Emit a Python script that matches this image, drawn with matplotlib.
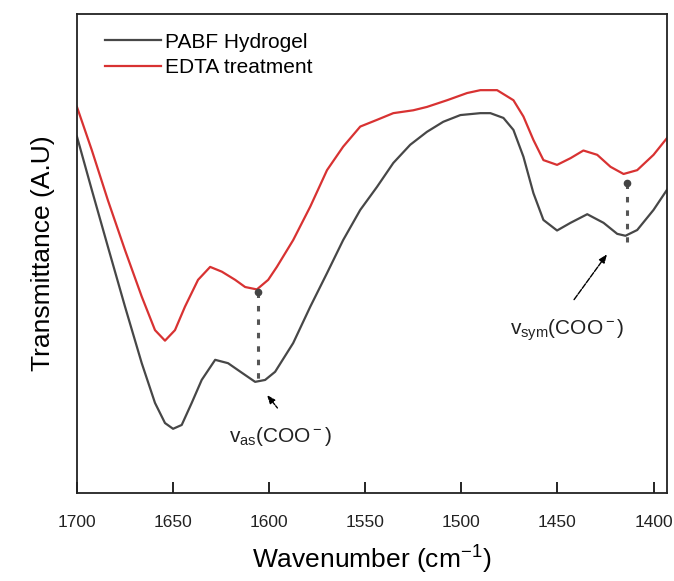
"""FTIR spectra of the PABF hydrogel before and after EDTA treatment."""

import matplotlib
matplotlib.use("Agg")
import matplotlib.pyplot as plt

plt.rcParams["font.family"] = ["Liberation Sans", "DejaVu Sans"]
plt.rcParams["mathtext.fontset"] = "custom"
plt.rcParams["mathtext.rm"] = "Liberation Sans"
plt.rcParams["mathtext.it"] = "Liberation Sans"

# wavenumber (cm-1) and transmittance (arbitrary units)
hydrogel_wn = [1700, 1692.3, 1683.9, 1675.0, 1666.3, 1659.4, 1654.2, 1650.0, 1645.5,
               1640.3, 1635.1, 1628.1, 1621.4, 1614.2, 1607.3, 1602.1, 1596.9,
               1587.5, 1578.6, 1569.9, 1561.5, 1552.6, 1543.9, 1535.4, 1526.6,
               1517.9, 1509.4, 1500.5, 1490.1, 1484.9, 1478.1, 1472.9, 1467.7,
               1462.5, 1457.3, 1450.2, 1443.2, 1434.5, 1426.0, 1418.9, 1414.6,
               1408.5, 1400.0, 1393]
hydrogel_t = [74.4, 63.3, 51.4, 38.9, 27.1, 18.8, 14.6, 13.4, 14.2,
              18.8, 23.6, 27.8, 27.1, 25.1, 23.2, 23.6, 25.3,
              31.3, 38.9, 45.9, 52.8, 59.1, 63.9, 68.9, 72.7,
              75.4, 77.5, 78.9, 79.3, 79.3, 78.3, 75.8, 70.2,
              62.6, 57.0, 54.8, 56.4, 58.2, 56.4, 54.1, 53.7,
              54.9, 59.1, 63.3]

edta_wn = [1700, 1692.3, 1683.9, 1675.0, 1666.3, 1659.4, 1654.2, 1649.0, 1643.8,
           1637.0, 1630.7, 1624.6, 1617.7, 1612.5, 1606.4, 1600.5, 1596.0,
           1587.5, 1578.6, 1569.9, 1561.5, 1552.6, 1543.9, 1535.4, 1525.0,
           1517.9, 1507.4, 1497.0, 1490.1, 1481.4, 1472.9, 1467.7, 1462.5,
           1457.3, 1450.2, 1443.2, 1436.5, 1429.3, 1422.4, 1415.6, 1408.5,
           1400.0, 1393]
edta_t = [80.6, 71.6, 61.1, 50.7, 41.0, 34.0, 31.8, 34.0, 38.9,
          44.5, 47.2, 46.2, 44.5, 43.0, 42.5, 44.5, 47.2,
          52.8, 59.8, 67.4, 72.3, 76.5, 77.9, 79.3, 79.9,
          80.6, 82.0, 83.5, 84.1, 84.1, 82.0, 78.6, 73.7,
          69.5, 68.5, 69.9, 71.5, 70.6, 68.1, 66.6, 67.4,
          70.6, 74.1]

# carboxylate bands marked with dotted lines
peak_wn = [1605.7, 1414]
peak_top = [42.0, 64.7]
peak_bottom = [23.2, 52.4]

fig = plt.figure(figsize=(6.74, 5.81), dpi=100)
ax = fig.add_axes([0.1142, 0.1515, 0.8754, 0.8244])

ax.plot(hydrogel_wn, hydrogel_t, color="#474747", lw=1.6,
        solid_joinstyle="round", label="PABF Hydrogel")
ax.plot(edta_wn, edta_t, color="#d83232", lw=1.6,
        solid_joinstyle="round", label="EDTA treatment")

for wn, top, bottom in zip(peak_wn, peak_top, peak_bottom):
    ax.plot([wn, wn], [top, bottom], color="#555555", lw=2.2,
            linestyle=(0, (1.8, 2.6)))
    ax.plot(wn, top, "o", color="#444444", ms=4.5)

ax.annotate("", xy=(1602, 20.9), xytext=(1594.8, 17.3),
            arrowprops=dict(arrowstyle="-|>,head_length=0.5,head_width=0.2",
                            color="black", lw=1, linestyle=(0, (2, 1))))
ax.text(1594.3, 11.7, r"v$_{\rm as}$(COO$^{\rm -}$)", fontsize=15,
        ha="center", va="center", color="#222222")

ax.annotate("", xy=(1423.4, 50.3), xytext=(1442.2, 39.9),
            arrowprops=dict(arrowstyle="-|>,head_length=0.5,head_width=0.2",
                            color="black", lw=1, linestyle=(0, (4, 1))))
ax.text(1444.8, 34.0, r"v$_{\rm sym}$(COO$^{\rm -}$)", fontsize=15,
        ha="center", va="center", color="#222222")

ax.set_xlim(1700, 1393)
ax.set_ylim(0, 100)
ax.set_xticks([1700, 1650, 1600, 1550, 1500, 1450, 1400])
ax.set_yticks([])
ax.tick_params(axis="x", direction="in", length=8, width=1.2, labelsize=12.5,
               pad=16, labelcolor="#222222")
for spine in ax.spines.values():
    spine.set_linewidth(1.3)
    spine.set_color("#222222")

ax.set_xlabel("Wavenumber (cm$^{-1}$)", fontsize=19, labelpad=10)
ax.set_ylabel("Transmittance (A.U)", fontsize=19, labelpad=16)

ax.legend(loc="upper left", frameon=False, fontsize=15, handlelength=2.7,
          handletextpad=0.2, labelspacing=0.3, bbox_to_anchor=(0.015, 1.0))

fig.savefig("out.png", dpi=100)
